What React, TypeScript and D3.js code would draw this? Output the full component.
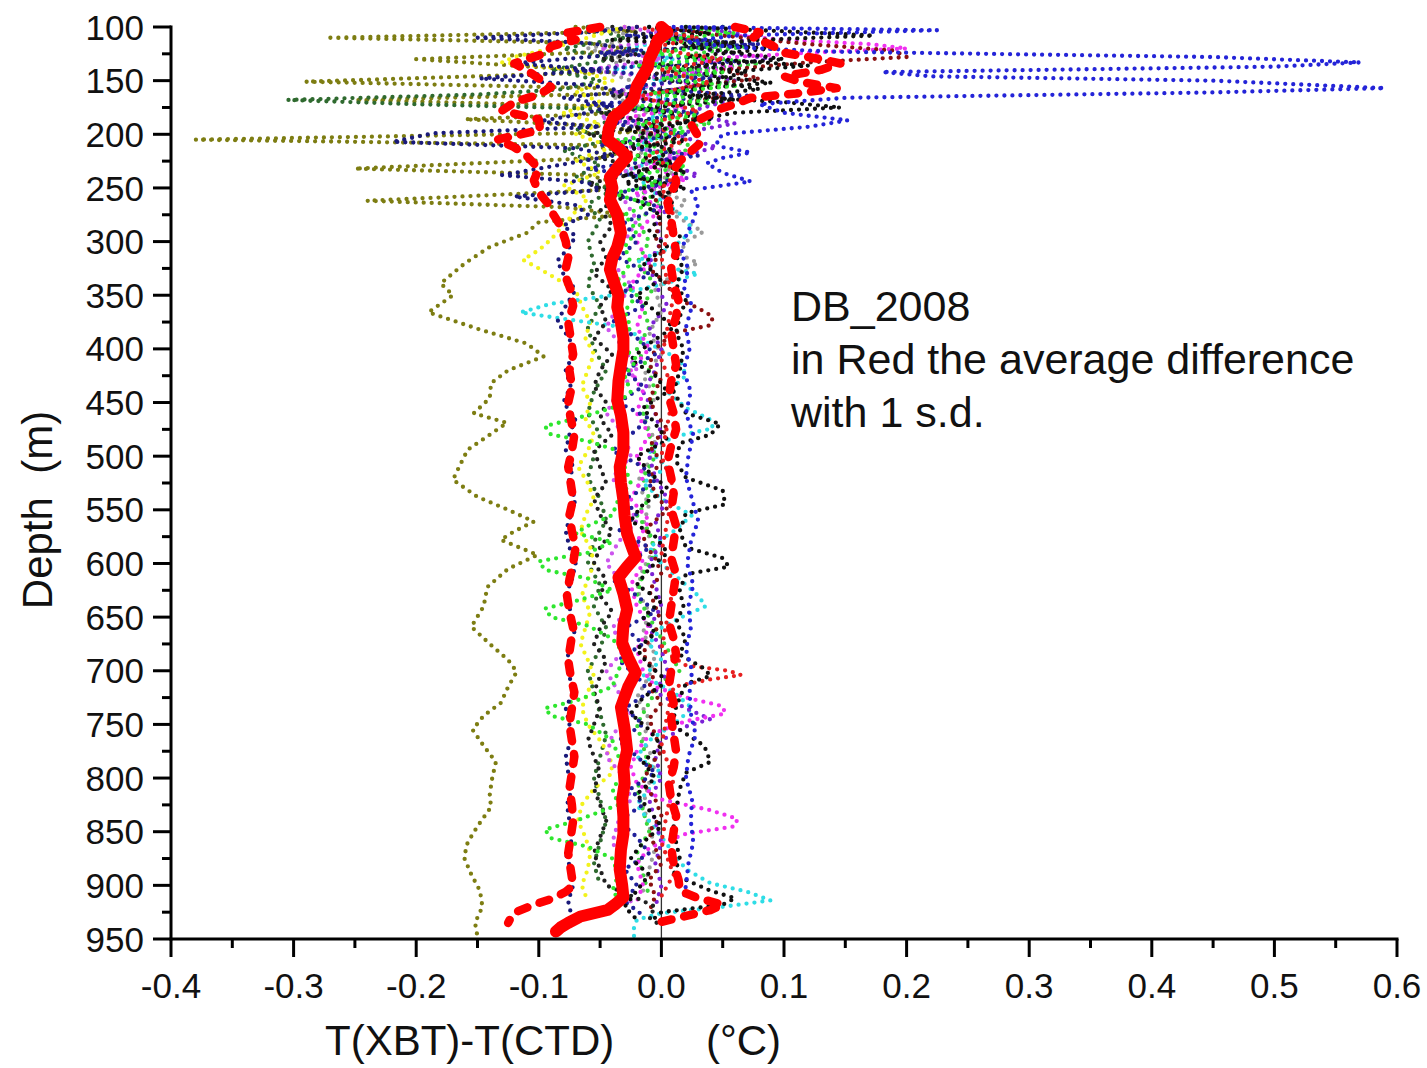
import React from 'react';
import * as d3 from 'd3';

type P = [number, number]; // [depth (m), T(XBT)-T(CTD) (°C)]

const X_TICKS = [-0.4, -0.3, -0.2, -0.1, 0.0, 0.1, 0.2, 0.3, 0.4, 0.5, 0.6];
const X_LABELS = ['-0.4', '-0.3', '-0.2', '-0.1', '0.0', '0.1', '0.2', '0.3', '0.4', '0.5', '0.6'];
const X_MINOR = [-0.35, -0.25, -0.15, -0.05, 0.05, 0.15, 0.25, 0.35, 0.45, 0.55];
const Y_TICKS = [100, 150, 200, 250, 300, 350, 400, 450, 500, 550, 600, 650, 700, 750, 800, 850, 900, 950];
const Y_MINOR = [125, 175, 225, 275, 325, 375, 425, 475, 525, 575, 625, 675, 725, 775, 825, 875, 925];

const olive: P[] = [[100,-0.07],[104,-0.02],[110,-0.27],[115,-0.06],[122,-0.02],[130,-0.2],[136,-0.12],[142,-0.04],[151,-0.29],[157,-0.05],[162,-0.03],[168,-0.25],[174,-0.05],[180,-0.03],[186,-0.16],[193,-0.04],[198,-0.02],[205,-0.38],[210,-0.06],[216,-0.03],[222,-0.05],[232,-0.25],[238,-0.06],[244,-0.04],[252,-0.05],[262,-0.24],[268,-0.08],[275,-0.03],[282,-0.1],[292,-0.11],[305,-0.14],[320,-0.16],[339,-0.18],[350,-0.17],[366,-0.19],[382,-0.148],[395,-0.11],[407,-0.096],[420,-0.125],[432,-0.139],[446,-0.14],[460,-0.153],[469,-0.126],[480,-0.14],[494,-0.158],[510,-0.165],[522,-0.17],[538,-0.15],[550,-0.125],[561,-0.104],[570,-0.12],[578,-0.131],[592,-0.101],[605,-0.125],[622,-0.142],[640,-0.145],[659,-0.155],[675,-0.14],[690,-0.125],[701,-0.118],[715,-0.125],[730,-0.131],[742,-0.145],[755,-0.154],[770,-0.145],[785,-0.135],[800,-0.138],[815,-0.14],[827,-0.139],[845,-0.15],[860,-0.158],[874,-0.161],[890,-0.155],[905,-0.148],[920,-0.146],[935,-0.152],[948,-0.15]];

const blue: P[] = [[100,0.01],[103,0.225],[108,0.06],[114,0.02],[119,0.06],[123,0.14],[128,0.45],[133,0.57],[137,0.5],[142,0.18],[146,0.22],[150,0.45],[157,0.59],[161,0.45],[166,0.15],[172,0.08],[180,0.1],[187,0.152],[193,0.12],[200,0.05],[207,0.045],[212,0.05],[217,0.073],[222,0.05],[227,0.037],[236,0.05],[244,0.073],[252,0.024],[265,0.03],[280,0.026],[295,0.02],[311,0.016],[325,0.022],[342,0.018],[360,0.025],[380,0.02],[400,0.023],[420,0.018],[440,0.024],[460,0.02],[480,0.026],[500,0.022],[520,0.02],[540,0.025],[560,0.03],[580,0.024],[600,0.021],[620,0.026],[640,0.022],[660,0.024],[680,0.02],[700,0.025],[720,0.023],[740,0.024],[760,0.028],[780,0.022],[800,0.02],[820,0.025],[840,0.024],[860,0.026],[880,0.022],[900,0.02],[915,0.018]];

const navy: P[] = [[100,-0.02],[105,-0.06],[110,-0.15],[115,-0.06],[121,-0.02],[127,-0.05],[134,-0.12],[140,-0.05],[148,-0.148],[154,-0.06],[160,-0.03],[166,-0.08],[173,-0.04],[180,-0.06],[188,-0.1],[193,-0.05],[199,-0.186],[207,-0.219],[213,-0.07],[220,-0.04],[228,-0.08],[238,-0.13],[245,-0.06],[252,-0.05],[258,-0.12],[266,-0.07],[275,-0.06],[285,-0.08],[295,-0.07],[305,-0.075],[318,-0.085],[330,-0.08],[345,-0.07],[360,-0.078],[375,-0.085],[390,-0.075],[405,-0.072],[420,-0.078],[435,-0.074],[450,-0.08],[465,-0.07],[480,-0.075],[495,-0.078],[510,-0.072],[525,-0.076],[540,-0.07],[555,-0.074],[570,-0.078],[585,-0.075],[600,-0.07],[615,-0.073],[630,-0.078],[645,-0.074],[660,-0.07],[675,-0.074],[690,-0.077],[705,-0.075],[720,-0.072],[735,-0.078],[750,-0.075],[765,-0.074],[780,-0.078],[795,-0.076],[810,-0.073],[825,-0.077],[840,-0.075],[855,-0.072],[870,-0.078],[885,-0.074],[900,-0.072],[915,-0.076],[930,-0.073]];

const navy2: P[] = [[100,0.05],[108,-0.03],[116,0.08],[124,-0.05],[132,0.06],[140,-0.07],[148,0.04],[156,-0.03],[164,0.07],[172,-0.06],[180,0.03],[190,-0.04],[200,0.02],[210,-0.05],[220,0.03],[232,-0.06],[244,0.01],[256,-0.04],[268,0.0],[282,-0.03],[300,-0.02],[315,-0.035],[330,-0.01],[345,-0.03],[360,-0.015],[375,-0.04],[390,-0.02],[405,-0.005],[420,-0.03],[435,-0.015],[450,-0.035],[465,-0.01],[480,-0.025],[495,-0.04],[510,-0.015],[525,-0.005],[540,-0.03],[555,-0.02],[570,-0.035],[585,-0.01],[600,-0.025],[615,-0.04],[630,-0.02],[645,-0.005],[660,-0.03],[675,-0.015],[690,-0.035],[705,-0.02],[720,-0.01],[735,-0.03],[750,-0.015],[765,-0.035],[780,-0.02],[795,-0.005],[810,-0.025],[825,-0.015],[840,-0.035],[855,-0.02],[870,-0.01],[885,-0.03],[900,-0.02],[915,-0.03],[928,-0.015]];

const black: P[] = [[100,0.02],[104,0.1],[108,0.173],[112,0.08],[118,0.02],[124,0.06],[130,0.1],[136,0.03],[142,0.07],[150,0.04],[158,0.08],[165,0.02],[170,0.1],[175,0.146],[180,0.06],[188,0.02],[196,0.0],[205,-0.02],[215,0.01],[225,-0.01],[235,0.02],[245,-0.03],[255,0.0],[265,0.01],[280,0.005],[295,0.015],[310,0.01],[325,0.018],[340,0.012],[355,0.02],[370,0.015],[385,0.012],[400,0.018],[420,0.015],[440,0.01],[460,0.02],[470,0.048],[480,0.04],[488,0.015],[505,0.012],[520,0.02],[532,0.05],[545,0.052],[553,0.02],[570,0.015],[585,0.02],[595,0.05],[603,0.055],[610,0.02],[625,0.015],[640,0.018],[655,0.012],[670,0.02],[685,0.015],[698,0.035],[705,0.04],[712,0.02],[725,0.015],[740,0.01],[755,0.015],[770,0.035],[785,0.04],[795,0.02],[810,0.015],[830,0.012],[845,0.01],[860,0.012],[875,0.015],[890,0.01],[905,0.04],[912,0.06],[918,0.05],[925,0.0],[935,-0.01]];

const black2: P[] = [[100,-0.04],[108,-0.01],[115,0.06],[122,0.0],[130,-0.05],[138,0.03],[146,-0.02],[155,0.04],[164,-0.04],[172,0.02],[180,-0.05],[190,0.0],[200,-0.06],[210,-0.02],[222,-0.05],[234,-0.01],[246,-0.06],[258,-0.03],[270,-0.05],[285,-0.04],[300,-0.05],[315,-0.045],[330,-0.055],[345,-0.04],[360,-0.05],[375,-0.045],[390,-0.055],[405,-0.04],[420,-0.05],[435,-0.055],[450,-0.045],[465,-0.05],[480,-0.04],[495,-0.055],[510,-0.05],[525,-0.045],[540,-0.055],[555,-0.05],[570,-0.04],[585,-0.05],[600,-0.055],[615,-0.045],[630,-0.05],[645,-0.04],[660,-0.05],[675,-0.055],[690,-0.045],[705,-0.05],[720,-0.055],[735,-0.05],[750,-0.055],[765,-0.06],[780,-0.055],[795,-0.05],[810,-0.055],[825,-0.05],[840,-0.045],[855,-0.05],[870,-0.055],[885,-0.05],[900,-0.045],[912,-0.02],[920,-0.005],[930,-0.01],[938,0.0]];

const black3: P[] = [[100,-0.01],[106,0.04],[112,-0.04],[120,0.09],[128,0.02],[136,0.12],[144,0.03],[152,0.09],[160,0.0],[168,0.06],[176,-0.02],[186,0.04],[196,-0.03],[206,0.02],[216,-0.04],[226,0.01],[238,-0.03],[250,0.02],[262,-0.02],[276,0.0],[290,-0.01],[305,0.005],[320,-0.015],[335,0.0],[350,-0.02],[365,-0.005],[380,0.01],[395,-0.01],[410,-0.025],[425,-0.005],[440,0.005],[455,-0.015],[470,-0.005],[485,0.005],[500,-0.02],[515,-0.01],[530,0.005],[545,-0.015],[560,-0.025],[575,-0.005],[590,0.005],[605,-0.01],[620,-0.02],[635,0.0],[650,-0.015],[665,-0.005],[680,-0.02],[695,-0.01],[710,0.005],[725,-0.015],[740,-0.025],[755,-0.01],[770,0.0],[785,-0.015],[800,-0.005],[815,-0.02],[830,-0.01],[845,0.0],[860,-0.015],[875,-0.025],[890,-0.01],[905,-0.02],[920,-0.03],[932,-0.02]];

const green: P[] = [[100,0.02],[106,0.06],[112,0.0],[118,0.05],[124,-0.01],[130,0.04],[136,-0.02],[142,0.05],[148,0.0],[155,0.06],[162,-0.01],[168,0.04],[175,-0.03],[182,0.03],[190,-0.02],[198,0.02],[206,-0.04],[214,0.01],[222,-0.03],[230,0.02],[238,-0.02],[246,0.0],[255,-0.04],[265,-0.01],[275,-0.03],[290,-0.02],[305,-0.03],[320,-0.025],[335,-0.035],[350,-0.02],[365,-0.03],[380,-0.025],[395,-0.035],[410,-0.02],[425,-0.03],[440,-0.025],[455,-0.04],[465,-0.07],[472,-0.095],[480,-0.09],[486,-0.06],[495,-0.035],[510,-0.03],[525,-0.025],[540,-0.035],[555,-0.04],[565,-0.06],[572,-0.07],[580,-0.04],[590,-0.06],[598,-0.1],[606,-0.095],[614,-0.06],[625,-0.04],[635,-0.07],[642,-0.095],[650,-0.09],[658,-0.06],[670,-0.04],[685,-0.03],[700,-0.035],[715,-0.04],[728,-0.07],[735,-0.095],[742,-0.09],[750,-0.06],[765,-0.04],[780,-0.035],[795,-0.03],[810,-0.04],[825,-0.035],[840,-0.07],[848,-0.095],[856,-0.09],[864,-0.06],[875,-0.04],[890,-0.035],[905,-0.04],[920,-0.03]];

const lime: P[] = [[100,0.05],[110,0.0],[118,0.07],[126,0.02],[134,0.08],[142,0.01],[150,0.06],[160,0.0],[170,0.05],[180,-0.01],[190,0.04],[200,-0.02],[212,0.03],[224,-0.01],[236,0.02],[250,-0.02],[265,0.0],[280,-0.02],[300,-0.01],[320,-0.02],[340,-0.005],[360,-0.015],[380,-0.01],[400,-0.02],[420,-0.01],[440,-0.005],[460,-0.015],[480,-0.01],[500,-0.005],[520,-0.015],[540,-0.01],[555,-0.02],[570,-0.01],[590,-0.005],[610,-0.015],[630,-0.02],[650,-0.01],[670,0.0],[690,0.01],[700,0.015],[710,0.0],[730,-0.01],[750,-0.02],[770,-0.015],[790,-0.01],[810,-0.02],[830,-0.015],[850,-0.01],[870,-0.02],[890,-0.015],[910,-0.01]];

const magenta: P[] = [[100,0.0],[106,0.04],[112,0.1],[116,0.17],[120,0.2],[124,0.12],[130,0.03],[138,0.06],[146,0.0],[155,0.03],[165,-0.02],[175,0.02],[185,-0.03],[195,0.01],[205,-0.02],[218,0.02],[230,-0.01],[242,0.02],[255,-0.02],[270,0.0],[285,-0.015],[300,-0.02],[320,-0.01],[340,-0.025],[360,-0.015],[380,-0.02],[400,-0.01],[420,-0.025],[440,-0.015],[460,-0.02],[480,-0.01],[500,-0.02],[520,-0.015],[540,-0.025],[560,-0.01],[580,-0.02],[600,-0.015],[620,-0.025],[640,-0.02],[660,-0.01],[680,-0.02],[700,-0.015],[715,-0.005],[725,0.02],[733,0.05],[740,0.052],[747,0.02],[760,-0.01],[775,-0.02],[790,-0.025],[805,-0.02],[820,0.0],[830,0.04],[838,0.062],[845,0.06],[852,0.02],[865,-0.01],[880,-0.02],[900,-0.015],[915,-0.02]];

const violet: P[] = [[100,-0.03],[110,0.02],[120,-0.05],[130,0.0],[140,-0.06],[150,0.02],[160,-0.04],[172,0.01],[184,-0.05],[196,0.0],[208,-0.04],[220,0.01],[234,-0.03],[248,0.0],[262,-0.03],[280,-0.02],[300,-0.03],[320,-0.04],[340,-0.025],[360,-0.035],[380,-0.045],[400,-0.03],[420,-0.02],[440,-0.035],[460,-0.045],[480,-0.03],[500,-0.025],[520,-0.04],[540,-0.03],[560,-0.02],[580,-0.035],[600,-0.045],[620,-0.03],[640,-0.025],[660,-0.04],[680,-0.03],[700,-0.045],[720,-0.035],[740,-0.025],[760,-0.04],[780,-0.045],[800,-0.03],[820,-0.025],[840,-0.035],[860,-0.04],[880,-0.03],[900,-0.035],[915,-0.025]];

const cyan: P[] = [[100,-0.01],[110,0.02],[120,-0.03],[130,0.01],[140,-0.04],[150,0.0],[160,-0.02],[172,0.02],[185,-0.01],[198,0.01],[210,-0.02],[222,0.0],[235,-0.03],[248,-0.01],[262,0.0],[278,0.02],[290,0.025],[305,0.01],[318,-0.02],[330,0.03],[340,0.0],[350,-0.04],[358,-0.09],[366,-0.115],[372,-0.08],[380,-0.03],[395,-0.01],[410,0.015],[425,0.02],[440,0.005],[455,0.02],[466,0.04],[474,0.042],[482,0.01],[495,-0.01],[510,0.005],[525,-0.015],[540,0.0],[555,0.025],[570,0.01],[585,-0.01],[600,0.0],[615,0.015],[630,0.03],[640,0.036],[648,0.02],[660,0.0],[675,-0.01],[690,0.0],[705,-0.015],[720,0.01],[735,0.025],[750,0.01],[765,-0.01],[780,-0.02],[795,0.0],[810,-0.01],[825,-0.02],[840,-0.01],[855,0.0],[870,0.01],[885,0.02],[898,0.04],[906,0.07],[914,0.089],[920,0.05],[926,0.0],[932,-0.02],[942,-0.023],[950,-0.022]];

const yellow: P[] = [[100,-0.03],[110,-0.06],[120,-0.09],[128,-0.12],[133,-0.13],[140,-0.07],[150,-0.04],[160,-0.07],[170,-0.05],[180,-0.08],[190,-0.05],[200,-0.07],[212,-0.04],[224,-0.07],[236,-0.05],[248,-0.08],[260,-0.06],[272,-0.07],[285,-0.08],[298,-0.09],[308,-0.1],[317,-0.113],[325,-0.1],[333,-0.088],[345,-0.07],[360,-0.065],[375,-0.058],[390,-0.062],[405,-0.055],[420,-0.06],[435,-0.065],[450,-0.058],[465,-0.062],[480,-0.055],[495,-0.06],[510,-0.068],[525,-0.06],[540,-0.055],[555,-0.062],[570,-0.066],[585,-0.058],[600,-0.055],[615,-0.06],[630,-0.065],[645,-0.058],[660,-0.062],[675,-0.066],[690,-0.06],[705,-0.055],[720,-0.06],[735,-0.065],[750,-0.06],[765,-0.05],[780,-0.042],[795,-0.04],[810,-0.055],[825,-0.065],[840,-0.068],[855,-0.062],[870,-0.058],[885,-0.06],[900,-0.065],[915,-0.06]];

const darkRed: P[] = [[100,0.0],[108,0.05],[116,0.12],[122,0.19],[128,0.2],[133,0.12],[140,0.05],[148,0.08],[156,0.02],[165,0.05],[175,-0.01],[185,0.03],[195,-0.02],[205,0.01],[215,-0.03],[228,0.0],[240,-0.02],[252,0.01],[265,-0.01],[280,0.0],[295,-0.005],[310,0.0],[325,-0.01],[340,0.005],[352,0.01],[362,0.03],[370,0.042],[378,0.04],[385,0.01],[400,-0.005],[415,-0.01],[430,0.0],[445,-0.01],[460,-0.005],[475,0.005],[490,-0.01],[505,0.0],[520,-0.01],[535,-0.005],[550,0.005],[565,-0.01],[580,-0.015],[595,-0.005],[610,0.0],[625,-0.01],[640,-0.005],[655,0.0],[670,-0.01],[685,-0.015],[700,-0.005],[715,-0.01],[730,0.0],[745,-0.01],[760,-0.005],[775,0.0],[790,-0.01],[805,-0.015],[820,-0.005],[835,0.0],[850,-0.01],[865,-0.005],[880,0.0],[895,-0.01],[910,-0.005],[925,-0.01]];

const purple: P[] = [[100,0.03],[110,0.08],[120,0.03],[130,0.09],[140,0.02],[150,0.06],[160,0.0],[170,0.05],[180,0.02],[190,0.06],[200,0.01],[212,0.045],[225,0.0],[238,0.03],[250,-0.01],[265,0.01],[280,-0.005],[300,0.0],[320,-0.01],[340,-0.005],[360,0.005],[380,-0.01],[400,0.0],[420,-0.005],[440,-0.015],[460,-0.005],[480,0.0],[500,-0.01],[520,-0.005],[540,0.005],[560,-0.005],[580,0.0],[600,-0.01],[620,-0.005],[640,0.0],[660,-0.01],[680,0.0],[700,0.005],[720,-0.005],[735,0.02],[745,0.04],[752,0.02],[765,0.0],[780,-0.005],[800,0.0],[820,-0.01],[840,-0.005],[860,0.0],[880,-0.005],[900,0.0],[920,-0.005]];

const gray: P[] = [[100,-0.05],[110,-0.02],[120,-0.06],[130,-0.03],[140,-0.05],[152,-0.02],[165,-0.04],[178,-0.01],[190,-0.03],[205,0.0],[220,-0.02],[235,0.01],[250,-0.01],[262,0.02],[275,0.01],[285,0.025],[291,0.034],[300,0.02],[312,0.015],[320,0.03],[330,0.01],[345,-0.005],[365,0.0],[385,-0.01],[405,0.0],[425,-0.015],[445,-0.005],[465,-0.015],[485,-0.005],[505,-0.01],[525,-0.02],[545,-0.01],[565,-0.015],[585,-0.005],[605,-0.015],[625,-0.02],[645,-0.01],[665,-0.015],[685,-0.005],[705,-0.01],[725,-0.02],[745,-0.01],[765,-0.015],[785,-0.005],[805,-0.01],[825,-0.015],[845,-0.01],[865,-0.005],[885,-0.01],[905,-0.015]];

const darkGreen: P[] = [[100,-0.06],[110,-0.03],[120,-0.08],[130,-0.04],[140,-0.09],[150,-0.05],[158,-0.08],[163,-0.15],[168,-0.305],[172,-0.2],[176,-0.06],[185,-0.03],[195,-0.07],[205,-0.04],[215,-0.08],[228,-0.05],[240,-0.07],[252,-0.04],[265,-0.06],[280,-0.05],[300,-0.06],[320,-0.055],[340,-0.06],[360,-0.05],[380,-0.06],[400,-0.055],[420,-0.045],[440,-0.055],[460,-0.06],[480,-0.05],[500,-0.055],[520,-0.06],[540,-0.05],[560,-0.045],[580,-0.055],[600,-0.06],[620,-0.05],[640,-0.055],[660,-0.045],[680,-0.05],[700,-0.06],[720,-0.055],[740,-0.05],[760,-0.045],[780,-0.05],[800,-0.055],[820,-0.05],[840,-0.045],[860,-0.05],[880,-0.055],[900,-0.05]];

const redDotted: P[] = [[100,-0.02],[110,0.03],[120,-0.01],[130,0.05],[140,0.0],[152,0.04],[165,-0.02],[178,0.03],[190,-0.01],[205,0.02],[220,-0.01],[235,0.015],[250,0.0],[270,0.01],[290,0.005],[320,0.0],[350,0.01],[380,0.005],[410,0.0],[440,0.01],[470,0.005],[500,0.0],[530,0.01],[560,0.005],[590,0.0],[620,0.01],[650,0.005],[680,0.0],[695,0.02],[700,0.055],[704,0.065],[708,0.04],[715,0.01],[740,0.005],[770,0.0],[800,0.01],[830,0.005],[860,0.0],[890,0.01],[910,0.0]];

const meanDiff: P[] = [[100,0.0],[105,0.005],[112,-0.003],[121,-0.006],[130,-0.01],[137,-0.011],[145,-0.015],[155,-0.02],[168,-0.023],[176,-0.03],[184,-0.039],[195,-0.043],[205,-0.044],[213,-0.035],[221,-0.028],[230,-0.035],[240,-0.042],[250,-0.04],[261,-0.042],[275,-0.036],[292,-0.033],[305,-0.036],[315,-0.04],[326,-0.042],[340,-0.038],[350,-0.035],[361,-0.036],[375,-0.033],[390,-0.031],[401,-0.031],[415,-0.033],[430,-0.035],[448,-0.036],[462,-0.033],[478,-0.031],[494,-0.031],[510,-0.034],[525,-0.033],[541,-0.031],[556,-0.03],[572,-0.028],[585,-0.024],[594,-0.021],[603,-0.028],[613,-0.035],[628,-0.031],[643,-0.028],[658,-0.031],[674,-0.032],[688,-0.027],[702,-0.021],[715,-0.027],[734,-0.033],[754,-0.03],[774,-0.028],[790,-0.031],[805,-0.03],[820,-0.032],[836,-0.031],[852,-0.031],[867,-0.033],[885,-0.034],[900,-0.032],[911,-0.031],[918,-0.038],[923,-0.044],[929,-0.066],[935,-0.076],[939,-0.082],[943,-0.086]];

const sdLower: P[] = [[100,-0.05],[106,-0.08],[112,-0.07],[118,-0.09],[124,-0.093],[130,-0.11],[134,-0.12],[140,-0.11],[148,-0.1],[156,-0.09],[163,-0.1],[170,-0.12],[178,-0.13],[186,-0.1],[196,-0.099],[205,-0.134],[212,-0.12],[220,-0.11],[232,-0.1],[243,-0.104],[254,-0.1],[264,-0.093],[275,-0.088],[286,-0.082],[300,-0.078],[315,-0.076],[330,-0.079],[345,-0.074],[360,-0.072],[375,-0.076],[390,-0.074],[405,-0.072],[420,-0.075],[435,-0.073],[450,-0.076],[465,-0.074],[480,-0.071],[495,-0.073],[510,-0.076],[525,-0.074],[540,-0.072],[555,-0.075],[570,-0.073],[585,-0.07],[600,-0.072],[615,-0.075],[630,-0.077],[645,-0.075],[660,-0.072],[675,-0.074],[690,-0.076],[705,-0.074],[720,-0.071],[735,-0.073],[750,-0.075],[765,-0.073],[780,-0.071],[795,-0.073],[810,-0.075],[825,-0.073],[840,-0.072],[855,-0.074],[870,-0.076],[885,-0.074],[900,-0.072],[906,-0.078],[912,-0.088],[918,-0.104],[926,-0.121],[935,-0.125]];

const sdUpper: P[] = [[100,0.06],[105,0.08],[110,0.075],[117,0.09],[124,0.1],[130,0.13],[134,0.146],[140,0.13],[146,0.1],[151,0.113],[157,0.143],[162,0.11],[166,0.073],[172,0.06],[177,0.046],[184,0.035],[190,0.024],[198,0.028],[207,0.033],[215,0.025],[225,0.015],[233,0.01],[245,0.012],[255,0.008],[264,0.005],[280,0.008],[295,0.01],[310,0.012],[325,0.008],[340,0.01],[355,0.014],[370,0.012],[385,0.008],[400,0.01],[415,0.012],[430,0.008],[445,0.006],[460,0.01],[475,0.012],[490,0.008],[505,0.005],[520,0.008],[535,0.01],[550,0.008],[565,0.012],[580,0.01],[595,0.008],[610,0.012],[625,0.01],[640,0.008],[655,0.006],[670,0.01],[685,0.012],[700,0.008],[715,0.006],[730,0.01],[745,0.008],[760,0.01],[775,0.012],[790,0.01],[805,0.006],[820,0.008],[835,0.012],[850,0.01],[865,0.008],[880,0.01],[895,0.014],[905,0.015],[912,0.03],[918,0.05],[923,0.04],[928,0.022],[934,0.0]];

const PROFILES: { data: P[]; color: string }[] = [
  { data: olive, color: '#7d7d12' },
  { data: darkGreen, color: '#2f6a2f' },
  { data: gray, color: '#9a9a9a' },
  { data: yellow, color: '#f2f21c' },
  { data: lime, color: '#3ad83a' },
  { data: cyan, color: '#2fdde6' },
  { data: violet, color: '#cc55ee' },
  { data: purple, color: '#7b22d6' },
  { data: magenta, color: '#f030f0' },
  { data: darkRed, color: '#8a1010' },
  { data: navy2, color: '#20209a' },
  { data: black2, color: '#202020' },
  { data: black3, color: '#0d0d0d' },
  { data: green, color: '#2ee62e' },
  { data: redDotted, color: '#e62020' },
  { data: navy, color: '#1a1a7a' },
  { data: black, color: '#111111' },
  { data: blue, color: '#2424d8' },
];

const FONT = "'Liberation Sans', Arial, Helvetica, sans-serif";

export default function App() {
  const W = 1427, H = 1068;
  const left = 171, right = 1397, top = 27, bottom = 939;
  const x = d3.scaleLinear().domain([-0.4, 0.6]).range([left, right]);
  const y = d3.scaleLinear().domain([100, 950]).range([top, bottom]);
  const line = d3.line<P>().x(d => x(d[1])).y(d => y(d[0]));

  return (
    <svg width={W} height={H} style={{ position: 'absolute', left: 0, top: 0, background: '#fff' }} fontFamily={FONT}>
      <rect x={0} y={0} width={W} height={H} fill="#fff" />
      {/* zero reference line */}
      <line x1={x(0)} x2={x(0)} y1={top} y2={bottom} stroke="#333" strokeWidth={1.3} />
      {PROFILES.map((p, i) => (
        <path key={i} d={line(p.data) || ''} fill="none" stroke={p.color} strokeWidth={4.3}
          strokeDasharray="0 8" strokeLinecap="round" strokeLinejoin="round" />
      ))}
      <path d={line(sdLower) || ''} fill="none" stroke="#ff0000" strokeWidth={8.5} strokeDasharray="10 13" strokeLinecap="round" strokeLinejoin="round" />
      <path d={line(sdUpper) || ''} fill="none" stroke="#ff0000" strokeWidth={8.5} strokeDasharray="10 13" strokeLinecap="round" strokeLinejoin="round" />
      <path d={line(meanDiff) || ''} fill="none" stroke="#ff0000" strokeWidth={12} strokeLinecap="round" strokeLinejoin="round" />

      {/* axes */}
      <line x1={left} x2={left} y1={top - 1.5} y2={bottom + 1.5} stroke="#000" strokeWidth={3} />
      <line x1={left - 1.5} x2={right + 1.5} y1={bottom} y2={bottom} stroke="#000" strokeWidth={3} />
      {Y_TICKS.map(t => (
        <g key={'y' + t}>
          <line x1={left - 18} x2={left} y1={y(t)} y2={y(t)} stroke="#000" strokeWidth={3} />
          <text x={144} y={y(t)} dy="0.36em" textAnchor="end" fontSize={35} fill="#111">{t}</text>
        </g>
      ))}
      {Y_MINOR.map(t => (
        <line key={'ym' + t} x1={left - 9} x2={left} y1={y(t)} y2={y(t)} stroke="#000" strokeWidth={3} />
      ))}
      {X_TICKS.map((t, i) => (
        <g key={'x' + t}>
          <line x1={x(t)} x2={x(t)} y1={bottom} y2={bottom + 18} stroke="#000" strokeWidth={3} />
          <text x={x(t)} y={998} textAnchor="middle" fontSize={35} fill="#111">{X_LABELS[i]}</text>
        </g>
      ))}
      {X_MINOR.map(t => (
        <line key={'xm' + t} x1={x(t)} x2={x(t)} y1={bottom} y2={bottom + 9} stroke="#000" strokeWidth={3} />
      ))}

      <text x={325} y={1055} fontSize={42} fill="#111">T(XBT)-T(CTD)</text>
      <text x={706} y={1055} fontSize={42} fill="#111">(°C)</text>
      <text transform="translate(52,510) rotate(-90)" textAnchor="middle" fontSize={42} fill="#111" xmlSpace="preserve">Depth  (m)</text>

      <text x={791} y={321} fontSize={43} fill="#111">DB_2008</text>
      <text x={791} y={374} fontSize={43} fill="#111">in Red the average difference</text>
      <text x={791} y={427} fontSize={43} fill="#111">with 1 s.d.</text>
    </svg>
  );
}
